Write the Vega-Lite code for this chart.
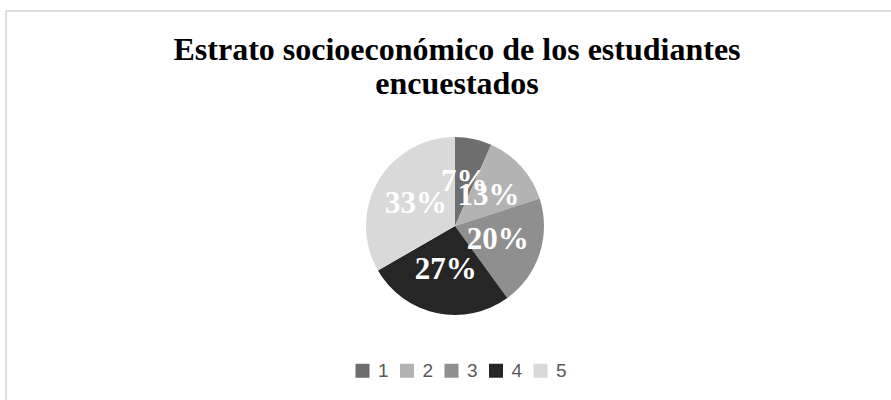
{
  "$schema": "https://vega.github.io/schema/vega-lite/v6.json",
  "width": 891,
  "height": 400,
  "autosize": {"type": "fit", "contains": "padding"},
  "padding": {"left": 6, "top": 11, "right": -5, "bottom": -5},
  "background": "white",
  "view": {"stroke": "#d4d4d4", "strokeWidth": 1.5},
  "config": {"view": {"stroke": "#d4d4d4", "strokeWidth": 1.5}},
  "title": {
    "text": ["Estrato socioeconómico de los estudiantes", "encuestados"],
    "font": "Liberation Serif",
    "fontSize": 32,
    "fontWeight": "bold",
    "color": "#000000",
    "lineHeight": 34,
    "anchor": "middle",
    "frame": "group",
    "orient": "top",
    "offset": -90,
    "dx": 6
  },
  "data": {
    "values": [
      {"estrato": "1", "n": 1, "label": "7%"},
      {"estrato": "2", "n": 2, "label": "13%"},
      {"estrato": "3", "n": 3, "label": "20%"},
      {"estrato": "4", "n": 4, "label": "27%"},
      {"estrato": "5", "n": 5, "label": "33%"}
    ]
  },
  "encoding": {
    "theta": {"field": "n", "type": "quantitative", "stack": true},
    "order": {"field": "estrato", "type": "ordinal"}
  },
  "layer": [
    {
      "mark": {"type": "arc", "radius": 89, "xOffset": 4, "yOffset": 18},
      "encoding": {
        "color": {
          "field": "estrato",
          "type": "nominal",
          "scale": {"domain": ["1", "2", "3", "4", "5"], "range": ["#6e6e6e", "#b3b3b3", "#8f8f8f", "#262626", "#d9d9d9"]},
          "legend": {
            "title": null,
            "orient": "none",
            "direction": "horizontal",
            "legendX": 347,
            "legendY": 350,
            "symbolType": "square",
            "symbolSize": 196,
            "symbolStrokeWidth": 0,
            "labelFont": "Liberation Sans",
            "labelFontSize": 19,
            "labelColor": "#595959",
            "labelOffset": 6,
            "columnPadding": 8.5
          }
        }
      }
    },
    {
      "mark": {"type": "text", "radius": 45, "xOffset": 4, "yOffset": 18, "font": "Liberation Serif", "fontSize": 31, "fontWeight": "bold", "color": "white"},
      "encoding": {"text": {"field": "label"}}
    }
  ]
}
